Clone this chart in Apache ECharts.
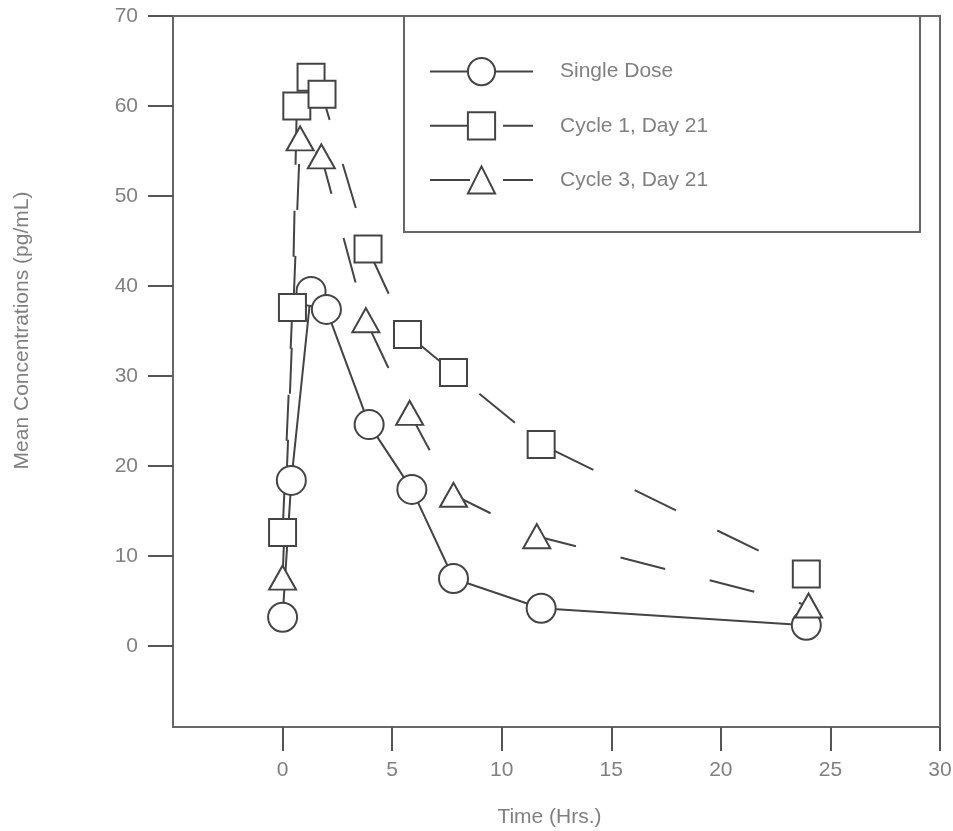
<!DOCTYPE html>
<html>
<head>
<meta charset="utf-8">
<script src="https://cdn.jsdelivr.net/npm/echarts@6/dist/echarts.min.js"></script>
<style>
html,body{margin:0;padding:0;background:#fff;}
#chart{width:953px;height:831px;}
</style>
</head>
<body>
<div id="chart"></div>
<script>
// ---- data ----
const seriesNames = ['Single Dose', 'Cycle 1, Day 21', 'Cycle 3, Day 21'];
const timeSingle = [0, 0.4, 1.3, 2, 3.95, 5.9, 7.8, 11.8, 23.9];
const concSingle = [3.2, 18.4, 39.4, 37.4, 24.6, 17.4, 7.5, 4.2, 2.3];
const timeC1 = [0, 0.45, 0.65, 1.3, 1.8, 3.9, 5.7, 7.8, 11.8, 23.9];
const concC1 = [12.6, 37.6, 60.0, 63.2, 61.3, 44.1, 34.6, 30.4, 22.4, 8.0];
const timeC3 = [0, 0.8, 1.77, 3.8, 5.8, 7.8, 11.6, 24];
const concC3 = [7.6, 56.4, 54.4, 36.2, 25.9, 16.8, 12.2, 4.5];
const xTicks = [0, 5, 10, 15, 20, 25, 30];
const yTicks = [0, 10, 20, 30, 40, 50, 60, 70];

const FONT = "'Liberation Sans Narrow', 'Arial Narrow', 'Liberation Sans', Arial, sans-serif";
const INK = '#444';
const TXT = '#808080';

function pairs(xs, ys) { return xs.map((x, i) => [x, ys[i]]); }

const chart = echarts.init(document.getElementById('chart'), null, {renderer: 'canvas'});

const common = {
  type: 'line',
  z: 3,
  itemStyle: {color: '#fff', borderColor: INK, borderWidth: 2},
  emphasis: {disabled: true},
  animation: false
};

const option = {
  animation: false,
  backgroundColor: '#fff',
  grid: {left: 173, right: 13, top: 16, bottom: 104, show: true, borderColor: '#666', borderWidth: 2,
         containLabel: false, outerBoundsMode: 'none'},
  xAxis: {
    type: 'value', min: -5, max: 30, interval: 5,
    name: 'Time (Hrs.)', nameLocation: 'middle', nameGap: 80,
    nameTextStyle: {fontFamily: FONT, fontSize: 21, color: TXT, padding: [0, 14, 0, 0]},
    axisLine: {show: false, onZero: false},
    splitLine: {show: false},
    axisTick: {show: true, inside: false, length: 24, customValues: xTicks, lineStyle: {color: '#555', width: 2}},
    axisLabel: {customValues: xTicks, margin: 33, fontFamily: FONT, fontSize: 21, color: TXT}
  },
  yAxis: {
    type: 'value', min: -9, max: 70,
    name: 'Mean Concentrations (pg/mL)', nameLocation: 'middle', nameGap: 140,
    nameTextStyle: {fontFamily: FONT, fontSize: 21, color: TXT, padding: [0, 0, 0, 82]},
    axisLine: {show: false, onZero: false},
    splitLine: {show: false},
    axisTick: {show: true, inside: false, length: 25, customValues: yTicks, lineStyle: {color: '#555', width: 2}},
    axisLabel: {customValues: yTicks, margin: 35, fontFamily: FONT, fontSize: 21, color: TXT}
  },
  legend: {
    orient: 'vertical', left: 424, top: 52,
    itemWidth: 103, itemHeight: 34, itemGap: 25,
    selectedMode: false,
    textStyle: {fontFamily: FONT, fontSize: 21, color: TXT, padding: [0, 0, 0, 22]},
    data: [
      {name: seriesNames[0]},
      {name: seriesNames[1], lineStyle: {type: [40, 33]}},
      {name: seriesNames[2], lineStyle: {type: [40, 33]}}
    ]
  },
  graphic: [{
    type: 'rect', z: 1,
    shape: {x: 404, y: 16, width: 516, height: 216},
    style: {fill: 'none', stroke: '#666', lineWidth: 2}
  }],
  series: [
    Object.assign({}, common, {
      name: seriesNames[0], data: pairs(timeSingle, concSingle),
      symbol: 'circle', symbolSize: 29,
      lineStyle: {color: INK, width: 2, type: 'solid'}
    }),
    Object.assign({}, common, {
      name: seriesNames[1], data: pairs(timeC1, concC1),
      symbol: 'rect', symbolSize: 27,
      lineStyle: {color: INK, width: 2, type: [46, 46]}
    }),
    Object.assign({}, common, {
      name: seriesNames[2], data: pairs(timeC3, concC3),
      symbol: 'triangle', symbolSize: [27, 24],
      lineStyle: {color: INK, width: 2, type: [46, 46]}
    })
  ]
};

chart.setOption(option);
</script>
</body>
</html>
